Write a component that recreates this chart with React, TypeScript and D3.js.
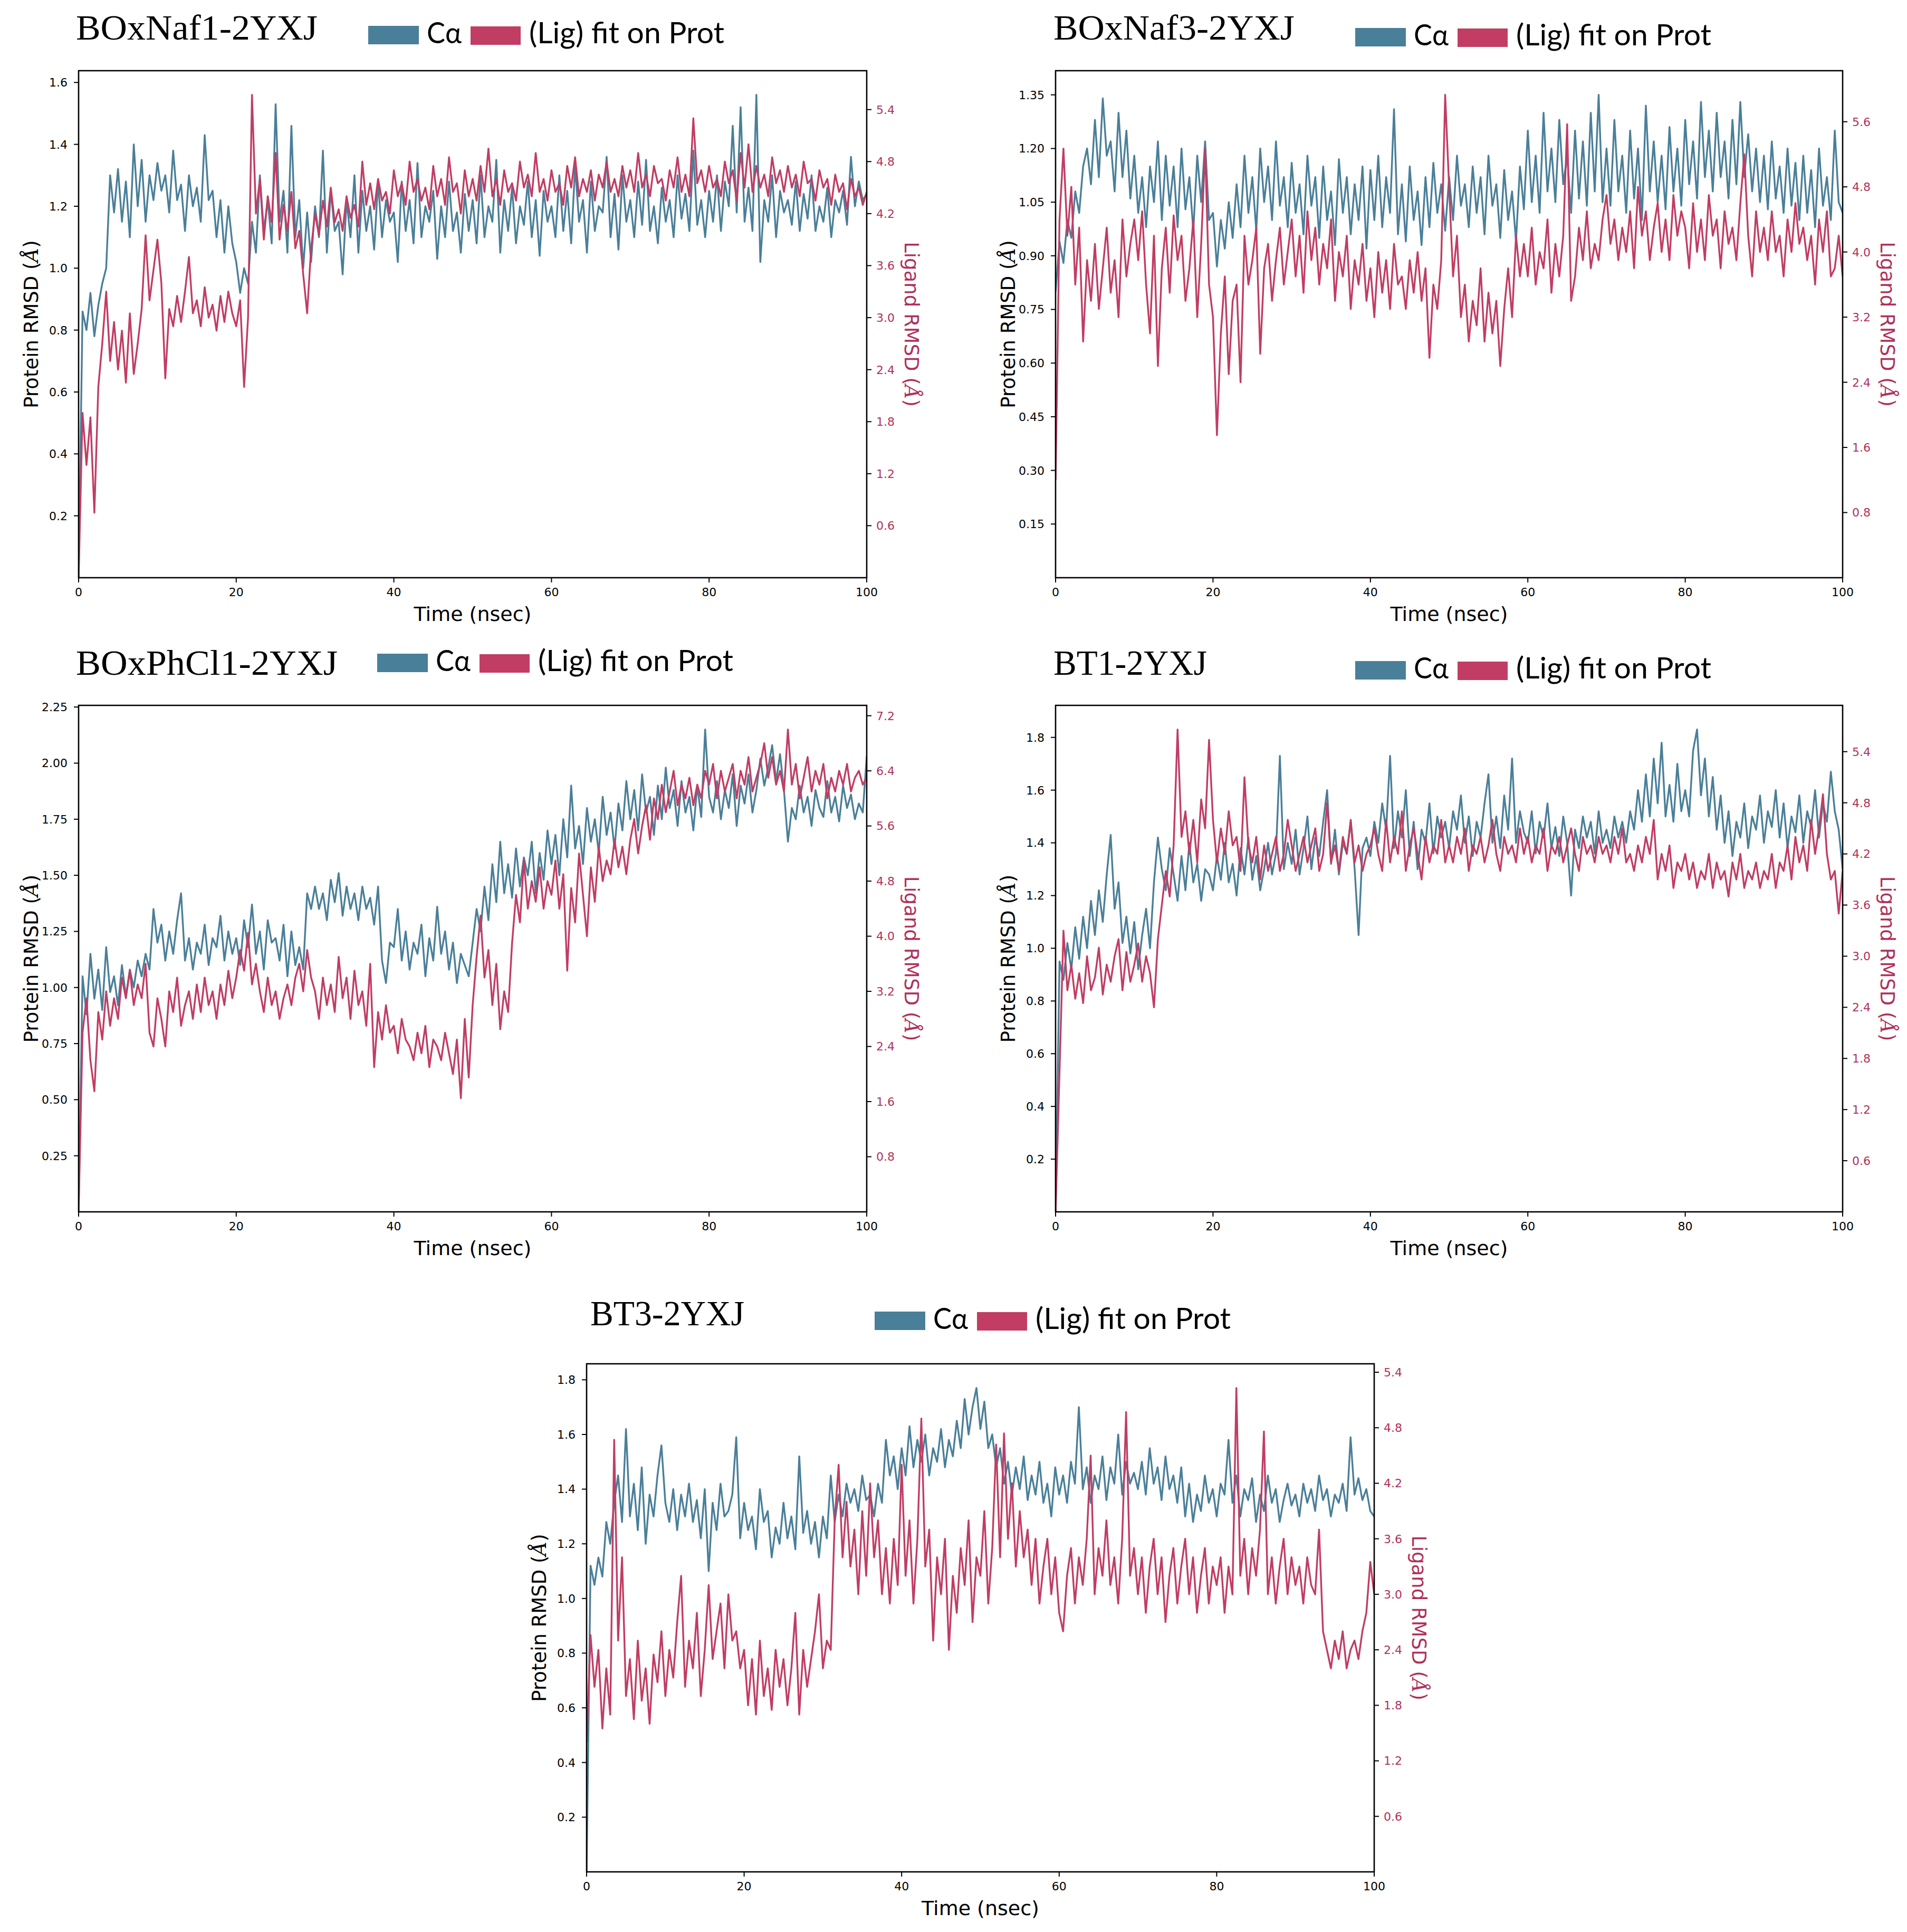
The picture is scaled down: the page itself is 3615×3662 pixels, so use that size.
import React from 'react';
import * as d3 from 'd3';

// time axis: 0..100 ns, one sample every 0.5 ns
const TIME_TICKS = [0, 20, 40, 60, 80, 100];

// ---- BOxNaf1-2YXJ ----
const ca1 = [
  0.00, 0.86, 0.80, 0.92, 0.78, 0.88, 0.95, 1.00, 1.30, 1.18, 1.32, 1.15, 1.28, 1.10, 1.40, 1.20, 1.35, 1.15, 1.30, 1.22,
  1.34, 1.25, 1.30, 1.18, 1.38, 1.22, 1.27, 1.12, 1.30, 1.20, 1.26, 1.15, 1.43, 1.22, 1.25, 1.10, 1.22, 1.05, 1.20, 1.08,
  1.02, 0.92, 1.00, 0.95, 1.15, 1.05, 1.30, 1.12, 1.22, 1.08, 1.53, 1.15, 1.25, 1.05, 1.46, 1.10, 1.22, 1.00, 1.18, 1.02,
  1.20, 1.10, 1.38, 1.05, 1.25, 1.12, 1.15, 0.98, 1.22, 1.10, 1.30, 1.05, 1.25, 1.12, 1.20, 1.06, 1.28, 1.10, 1.22, 1.15,
  1.18, 1.02, 1.28, 1.12, 1.22, 1.08, 1.34, 1.10, 1.20, 1.15, 1.25, 1.03, 1.20, 1.10, 1.28, 1.12, 1.18, 1.05, 1.24, 1.12,
  1.22, 1.08, 1.30, 1.10, 1.20, 1.15, 1.35, 1.05, 1.22, 1.12, 1.26, 1.08, 1.20, 1.14, 1.28, 1.10, 1.22, 1.04, 1.25, 1.15,
  1.20, 1.10, 1.30, 1.12, 1.25, 1.08, 1.33, 1.15, 1.22, 1.05, 1.28, 1.12, 1.20, 1.18, 1.36, 1.10, 1.24, 1.06, 1.30, 1.15,
  1.22, 1.10, 1.28, 1.14, 1.35, 1.12, 1.20, 1.08, 1.26, 1.15, 1.22, 1.10, 1.30, 1.16, 1.24, 1.12, 1.38, 1.14, 1.22, 1.10,
  1.25, 1.15, 1.30, 1.12, 1.28, 1.20, 1.46, 1.18, 1.52, 1.15, 1.26, 1.12, 1.56, 1.02, 1.22, 1.15, 1.30, 1.10, 1.25, 1.18,
  1.22, 1.14, 1.28, 1.12, 1.24, 1.16, 1.30, 1.12, 1.20, 1.15, 1.26, 1.10, 1.22, 1.18, 1.25, 1.14, 1.36, 1.20, 1.28, 1.22,
  1.24,
];
const lig1 = [
  0.00, 1.90, 1.30, 1.85, 0.75, 2.20, 2.70, 3.30, 2.50, 2.95, 2.40, 2.85, 2.25, 3.05, 2.35, 2.70, 3.10, 3.95, 3.20, 3.55,
  3.90, 3.40, 2.30, 3.10, 2.90, 3.25, 2.95, 3.30, 3.70, 3.05, 3.20, 2.90, 3.35, 3.00, 3.15, 2.85, 3.25, 2.95, 3.30, 3.05,
  2.90, 3.20, 2.20, 3.00, 5.57, 4.20, 4.60, 3.90, 4.40, 4.10, 4.90, 3.90, 4.30, 4.00, 4.45, 3.80, 4.00, 3.50, 3.05, 3.80,
  4.20, 3.95, 4.35, 4.05, 4.50, 4.10, 4.25, 4.00, 4.40, 4.15, 4.30, 4.05, 4.80, 4.30, 4.55, 4.25, 4.60, 4.35, 4.45, 4.20,
  4.70, 4.40, 4.55, 4.30, 4.80, 4.45, 4.60, 4.35, 4.50, 4.25, 4.75, 4.40, 4.60, 4.30, 4.85, 4.45, 4.55, 4.20, 4.70, 4.40,
  4.60, 4.35, 4.75, 4.45, 4.95, 4.40, 4.60, 4.30, 4.70, 4.45, 4.55, 4.35, 4.80, 4.50, 4.65, 4.40, 4.90, 4.45, 4.60, 4.35,
  4.70, 4.45, 4.55, 4.30, 4.75, 4.50, 4.85, 4.40, 4.60, 4.45, 4.70, 4.35, 4.65, 4.50, 4.80, 4.45, 4.60, 4.40, 4.75, 4.50,
  4.70, 4.45, 4.90, 4.50, 4.65, 4.40, 4.75, 4.55, 4.60, 4.35, 4.70, 4.50, 4.85, 4.45, 4.65, 4.40, 5.30, 4.55, 4.70, 4.45,
  4.75, 4.50, 4.60, 4.40, 4.80, 4.55, 4.70, 4.35, 4.90, 4.50, 5.00, 4.45, 4.75, 4.50, 4.65, 4.40, 4.85, 4.55, 4.70, 4.45,
  4.75, 4.50, 4.65, 4.40, 4.80, 4.55, 4.60, 4.35, 4.70, 4.50, 4.60, 4.30, 4.65, 4.45, 4.55, 4.25, 4.60, 4.40, 4.50, 4.30,
  4.45,
];

// ---- BOxNaf3-2YXJ ----
const ca2 = [
  0.80, 0.94, 0.88, 1.00, 0.95, 1.08, 1.02, 1.15, 1.20, 1.10, 1.28, 1.12, 1.34, 1.18, 1.22, 1.08, 1.30, 1.12, 1.25, 1.06,
  1.18, 1.02, 1.12, 0.98, 1.15, 1.05, 1.22, 1.00, 1.18, 1.04, 1.15, 0.98, 1.20, 1.03, 1.12, 0.97, 1.18, 1.05, 1.22, 1.00,
  1.02, 0.87, 1.00, 0.92, 1.05, 0.95, 1.10, 0.98, 1.18, 1.02, 1.12, 0.97, 1.20, 1.05, 1.15, 1.00, 1.22, 1.04, 1.12, 0.98,
  1.16, 1.02, 1.10, 0.96, 1.18, 1.04, 1.12, 0.95, 1.15, 1.00, 1.08, 0.93, 1.17, 1.02, 1.12, 0.96, 1.10, 1.00, 1.15, 0.92,
  1.14, 1.00, 1.18, 0.98, 1.12, 1.02, 1.31, 0.96, 1.10, 0.94, 1.15, 1.00, 1.08, 0.93, 1.12, 0.98, 1.16, 1.02, 1.10, 0.97,
  1.12, 1.00, 1.18, 1.04, 1.10, 0.98, 1.15, 1.02, 1.12, 0.96, 1.18, 1.04, 1.10, 0.95, 1.14, 1.00, 1.08, 0.94, 1.15, 1.03,
  1.25, 1.05, 1.18, 1.02, 1.30, 1.08, 1.20, 1.05, 1.28, 1.10, 1.18, 1.02, 1.25, 1.06, 1.22, 1.04, 1.30, 1.08, 1.35, 1.05,
  1.20, 1.04, 1.28, 1.08, 1.18, 1.02, 1.25, 1.06, 1.20, 1.00, 1.32, 1.08, 1.22, 1.05, 1.18, 1.03, 1.26, 1.08, 1.20, 1.04,
  1.28, 1.10, 1.22, 1.06, 1.33, 1.12, 1.25, 1.08, 1.30, 1.12, 1.22, 1.06, 1.28, 1.10, 1.33, 1.12, 1.24, 1.08, 1.20, 1.05,
  1.18, 1.03, 1.22, 1.06, 1.15, 1.02, 1.20, 1.04, 1.16, 1.00, 1.18, 1.02, 1.14, 0.98, 1.20, 1.04, 1.12, 1.00, 1.25, 1.05,
  1.02,
];
const lig2 = [
  1.20, 4.40, 5.27, 4.20, 4.80, 3.60, 4.30, 2.90, 3.90, 3.40, 4.10, 3.30, 3.80, 4.30, 3.50, 3.90, 3.20, 4.40, 3.70, 4.10,
  4.40, 3.90, 4.50, 3.60, 3.00, 4.20, 2.60, 3.80, 4.30, 3.50, 4.45, 3.90, 4.20, 3.40, 3.80, 4.40, 3.20, 4.10, 5.27, 3.60,
  3.20, 1.75, 3.00, 3.70, 2.50, 3.40, 3.60, 2.40, 4.20, 3.60, 3.90, 4.30, 2.75, 3.80, 4.10, 3.40, 3.90, 4.30, 3.60, 4.00,
  4.40, 3.70, 4.20, 3.50, 4.50, 3.90, 4.30, 3.60, 4.10, 3.80, 4.40, 3.40, 4.00, 3.70, 4.20, 3.30, 3.90, 3.60, 4.10, 3.40,
  3.80, 3.20, 4.00, 3.50, 3.90, 3.30, 4.10, 3.60, 3.70, 3.30, 3.90, 3.50, 4.00, 3.40, 3.80, 2.70, 3.60, 3.30, 3.90, 5.93,
  4.80, 3.70, 4.20, 3.20, 3.60, 2.90, 3.40, 3.10, 3.80, 2.90, 3.50, 3.00, 3.40, 2.60, 3.30, 3.80, 3.20, 4.20, 3.70, 4.10,
  3.70, 4.30, 3.60, 4.00, 3.80, 4.40, 3.50, 4.10, 3.70, 4.20, 5.57, 3.40, 3.70, 4.30, 3.90, 4.50, 3.80, 4.10, 3.90, 4.40,
  4.70, 4.10, 4.40, 3.90, 4.30, 4.00, 4.50, 3.80, 4.80, 4.20, 4.50, 3.90, 4.30, 4.60, 4.00, 4.40, 3.90, 4.70, 4.20, 4.50,
  4.30, 3.80, 4.60, 4.00, 4.40, 3.90, 4.70, 4.20, 4.40, 3.80, 4.50, 4.10, 4.30, 3.90, 4.60, 5.20, 4.20, 3.70, 4.50, 4.00,
  4.30, 3.90, 4.50, 4.00, 4.20, 3.70, 4.40, 4.00, 4.60, 4.10, 4.30, 3.90, 4.20, 3.60, 4.40, 4.00, 4.50, 3.70, 3.80, 4.20,
  3.70,
];

// ---- BOxPhCl1-2YXJ ----
const ca3 = [
  0.00, 1.05, 0.88, 1.15, 0.95, 1.08, 0.90, 1.18, 0.98, 1.05, 0.92, 1.10, 0.96, 1.08, 1.00, 1.12, 1.05, 1.15, 1.08, 1.35,
  1.20, 1.28, 1.12, 1.25, 1.15, 1.30, 1.42, 1.12, 1.22, 1.08, 1.20, 1.15, 1.28, 1.10, 1.22, 1.18, 1.32, 1.12, 1.25, 1.15,
  1.22, 1.10, 1.30, 1.18, 1.37, 1.15, 1.25, 1.08, 1.30, 1.20, 1.22, 1.12, 1.28, 1.05, 1.25, 1.10, 1.18, 1.08, 1.42, 1.35,
  1.45, 1.35, 1.42, 1.30, 1.48, 1.38, 1.51, 1.32, 1.45, 1.35, 1.42, 1.30, 1.45, 1.35, 1.40, 1.28, 1.45, 1.12, 1.02, 1.20,
  1.18, 1.35, 1.12, 1.25, 1.08, 1.20, 1.15, 1.28, 1.05, 1.22, 1.12, 1.36, 1.15, 1.25, 1.08, 1.20, 1.02, 1.15, 1.10, 1.05,
  1.20, 1.35, 1.25, 1.45, 1.30, 1.55, 1.38, 1.65, 1.42, 1.55, 1.40, 1.62, 1.45, 1.58, 1.50, 1.65, 1.42, 1.60, 1.48, 1.70,
  1.55, 1.68, 1.50, 1.75, 1.58, 1.90, 1.62, 1.72, 1.55, 1.80, 1.65, 1.75, 1.60, 1.85, 1.68, 1.78, 1.62, 1.82, 1.70, 1.92,
  1.75, 1.88, 1.70, 1.95, 1.78, 1.85, 1.68, 1.90, 1.75, 1.98, 1.80, 1.88, 1.72, 1.92, 1.78, 1.85, 1.70, 1.90, 1.76, 2.15,
  1.85, 1.78, 1.92, 1.75, 1.88, 1.80, 1.95, 1.72, 1.90, 1.82, 1.95, 1.78, 1.88, 2.02, 1.90, 1.98, 2.08, 1.92, 2.04, 1.88,
  1.65, 1.80, 1.75, 1.90, 1.78, 1.85, 1.72, 1.88, 1.80, 1.76, 1.92, 1.78, 1.85, 1.74, 1.90, 1.80, 1.86, 1.75, 1.82, 1.78,
  2.03,
];
const lig3 = [
  0.00, 2.60, 3.10, 2.20, 1.75, 2.90, 2.50, 3.20, 2.70, 3.10, 2.80, 3.40, 3.10, 3.50, 3.00, 3.30, 3.10, 3.60, 2.60, 2.40,
  3.10, 2.80, 2.40, 3.20, 2.90, 3.40, 2.70, 3.00, 3.20, 2.80, 3.30, 2.90, 3.40, 3.00, 3.20, 2.80, 3.30, 3.00, 3.50, 3.10,
  3.40, 3.80, 3.50, 4.05, 3.30, 3.60, 3.20, 2.90, 3.40, 3.00, 3.20, 2.80, 3.10, 3.30, 3.00, 3.40, 3.60, 3.20, 3.80, 3.40,
  3.20, 2.80, 3.40, 3.00, 3.30, 2.90, 3.70, 3.10, 3.40, 2.80, 3.50, 3.00, 3.20, 2.70, 3.60, 2.10, 2.90, 2.50, 3.00, 2.60,
  2.70, 2.30, 2.80, 2.50, 2.40, 2.20, 2.60, 2.30, 2.70, 2.10, 2.50, 2.40, 2.20, 2.60, 2.30, 2.00, 2.50, 1.65, 2.80, 1.95,
  3.00, 3.70, 4.30, 3.40, 3.80, 3.00, 3.60, 2.65, 3.20, 2.90, 3.90, 4.60, 4.20, 5.10, 4.40, 4.80, 4.50, 5.00, 4.40, 4.80,
  4.60, 5.10, 4.40, 4.90, 3.50, 4.70, 4.20, 5.20, 4.60, 4.00, 5.00, 4.50, 5.30, 4.80, 5.10, 4.90, 5.40, 5.00, 5.30, 4.90,
  5.40, 5.70, 5.20, 5.60, 5.90, 5.40, 6.00, 5.70, 6.20, 5.80, 6.10, 6.40, 5.90, 6.20, 6.00, 6.30, 5.90, 6.20, 6.00, 6.40,
  6.20, 6.50, 6.00, 6.40, 6.10, 6.30, 6.50, 6.00, 6.40, 6.20, 6.60, 6.10, 6.30, 6.50, 6.80, 6.30, 6.60, 6.20, 6.40, 6.10,
  7.00, 6.20, 6.50, 6.00, 6.30, 6.60, 6.10, 6.40, 6.20, 6.50, 6.00, 6.30, 6.10, 6.40, 6.20, 6.50, 6.10, 6.30, 6.40, 6.20,
  6.30,
];

// ---- BT1-2YXJ ----
const ca4 = [
  0.00, 0.95, 0.88, 1.02, 0.92, 1.08, 0.96, 1.12, 1.00, 1.18, 1.05, 1.22, 1.10, 1.28, 1.43, 1.15, 1.25, 1.02, 1.12, 0.98,
  1.10, 0.92, 1.05, 1.15, 1.00, 1.25, 1.42, 1.30, 1.22, 1.38, 1.28, 1.18, 1.35, 1.22, 1.40, 1.25, 1.32, 1.18, 1.30, 1.28,
  1.22, 1.35, 1.26, 1.40, 1.25, 1.32, 1.20, 1.38, 1.28, 1.42, 1.26, 1.35, 1.22, 1.30, 1.40, 1.28, 1.36, 1.73, 1.30, 1.40,
  1.32, 1.45, 1.28, 1.38, 1.50, 1.30, 1.42, 1.35, 1.48, 1.60, 1.32, 1.45, 1.28, 1.40, 1.36, 1.48, 1.30, 1.05, 1.38, 1.42,
  1.35, 1.48, 1.40, 1.55, 1.45, 1.73, 1.38, 1.52, 1.42, 1.60, 1.35, 1.48, 1.30, 1.45, 1.40, 1.55, 1.36, 1.50, 1.42, 1.48,
  1.38, 1.52, 1.45, 1.58, 1.40, 1.50, 1.35, 1.48, 1.42, 1.55, 1.66, 1.40, 1.50, 1.38, 1.58, 1.45, 1.72, 1.40, 1.52, 1.44,
  1.40, 1.52, 1.36, 1.48, 1.42, 1.55, 1.38, 1.46, 1.35, 1.50, 1.40, 1.20, 1.45, 1.38, 1.50, 1.42, 1.48, 1.36, 1.52, 1.40,
  1.45, 1.38, 1.50, 1.42, 1.48, 1.40, 1.52, 1.45, 1.60, 1.48, 1.66, 1.50, 1.72, 1.55, 1.78, 1.50, 1.62, 1.48, 1.70, 1.52,
  1.60, 1.50, 1.75, 1.83, 1.58, 1.72, 1.50, 1.65, 1.45, 1.58, 1.40, 1.52, 1.35, 1.48, 1.42, 1.55, 1.38, 1.50, 1.45, 1.58,
  1.40, 1.52, 1.46, 1.60, 1.42, 1.55, 1.38, 1.50, 1.44, 1.58, 1.40, 1.52, 1.46, 1.60, 1.42, 1.55, 1.48, 1.67, 1.52, 1.45,
  1.30,
];
const lig4 = [
  0.00, 1.64, 3.30, 2.60, 2.90, 2.50, 2.80, 2.45, 3.00, 2.60, 2.75, 3.10, 2.55, 2.90, 2.70, 3.00, 3.20, 2.60, 3.05, 2.70,
  2.90, 3.15, 2.70, 3.00, 2.80, 2.40, 3.20, 3.60, 4.00, 3.70, 4.30, 5.66, 4.40, 4.70, 4.20, 4.60, 4.10, 4.84, 4.50, 5.54,
  4.60, 4.10, 4.50, 4.20, 4.70, 4.30, 4.40, 4.00, 5.10, 4.30, 4.10, 4.40, 3.90, 4.30, 4.00, 4.20, 4.40, 4.00, 4.20, 4.60,
  4.30, 4.00, 4.20, 4.40, 4.10, 4.30, 4.50, 4.00, 4.20, 4.80, 4.10, 4.30, 4.00, 4.40, 4.20, 4.60, 4.10, 4.30, 4.00, 4.20,
  4.30, 4.50, 4.20, 4.00, 4.60, 4.10, 4.40, 4.20, 4.70, 4.00, 4.30, 4.50, 4.20, 3.90, 4.40, 4.10, 4.30, 4.20, 4.60, 4.10,
  4.30, 4.10, 4.40, 4.20, 4.50, 4.00, 4.30, 4.20, 4.40, 4.10, 4.30, 4.60, 4.20, 4.00, 4.40, 4.20, 4.30, 4.10, 4.50, 4.20,
  4.40, 4.10, 4.30, 4.20, 4.50, 4.00, 4.30, 4.20, 4.40, 4.10, 4.30, 4.50, 4.20, 4.00, 4.40, 4.20, 4.30, 4.10, 4.40, 4.20,
  4.30, 4.10, 4.40, 4.20, 4.50, 4.10, 4.20, 4.00, 4.30, 4.10, 4.40, 4.20, 4.60, 3.90, 4.20, 4.00, 4.30, 3.80, 4.10, 4.00,
  4.20, 3.90, 4.10, 3.80, 4.00, 3.90, 4.20, 3.80, 4.10, 3.90, 4.00, 3.70, 4.10, 3.90, 4.20, 3.80, 4.00, 3.90, 4.10, 3.80,
  4.00, 3.90, 4.20, 3.80, 4.10, 4.00, 4.30, 3.90, 4.40, 4.10, 4.30, 4.00, 4.60, 4.20, 4.50, 4.90, 4.20, 3.90, 4.00, 3.50,
  4.00,
];

// ---- BT3-2YXJ ----
const ca5 = [
  0.00, 1.12, 1.05, 1.15, 1.08, 1.28, 1.20, 1.35, 1.45, 1.28, 1.62, 1.30, 1.42, 1.25, 1.48, 1.20, 1.38, 1.30, 1.45, 1.56,
  1.35, 1.28, 1.40, 1.25, 1.38, 1.30, 1.42, 1.28, 1.36, 1.22, 1.40, 1.10, 1.35, 1.25, 1.42, 1.30, 1.32, 1.38, 1.59, 1.22,
  1.35, 1.25, 1.30, 1.18, 1.40, 1.28, 1.32, 1.15, 1.26, 1.20, 1.35, 1.22, 1.30, 1.18, 1.52, 1.24, 1.32, 1.20, 1.28, 1.15,
  1.30, 1.22, 1.45, 1.28, 1.38, 1.30, 1.42, 1.35, 1.40, 1.32, 1.45, 1.36, 1.38, 1.30, 1.42, 1.35, 1.58, 1.45, 1.52, 1.40,
  1.55, 1.45, 1.63, 1.48, 1.58, 1.50, 1.60, 1.45, 1.55, 1.50, 1.62, 1.48, 1.58, 1.52, 1.65, 1.55, 1.73, 1.60, 1.70, 1.77,
  1.62, 1.72, 1.55, 1.60, 1.48, 1.55, 1.42, 1.50, 1.38, 1.48, 1.40, 1.52, 1.36, 1.45, 1.38, 1.50, 1.35, 1.42, 1.30, 1.48,
  1.38, 1.45, 1.35, 1.50, 1.42, 1.70, 1.40, 1.48, 1.35, 1.45, 1.40, 1.52, 1.36, 1.48, 1.42, 1.60, 1.38, 1.50, 1.42, 1.46,
  1.40, 1.50, 1.38, 1.55, 1.42, 1.48, 1.36, 1.52, 1.40, 1.45, 1.35, 1.48, 1.30, 1.42, 1.28, 1.38, 1.32, 1.45, 1.35, 1.40,
  1.30, 1.42, 1.38, 1.58, 1.35, 1.45, 1.30, 1.40, 1.36, 1.44, 1.28, 1.38, 1.32, 1.45, 1.35, 1.40, 1.28, 1.36, 1.42, 1.34,
  1.38, 1.30, 1.42, 1.35, 1.40, 1.32, 1.45, 1.36, 1.40, 1.30, 1.38, 1.35, 1.42, 1.32, 1.59, 1.38, 1.44, 1.36, 1.40, 1.32,
  1.30,
];
const lig5 = [
  1.40, 2.56, 2.00, 2.40, 1.55, 2.20, 1.70, 4.67, 2.50, 3.40, 1.90, 2.30, 1.65, 2.50, 1.85, 2.20, 1.60, 2.35, 2.05, 2.60,
  1.90, 2.40, 2.10, 2.70, 3.20, 2.00, 2.50, 2.20, 2.80, 1.90, 2.40, 3.10, 2.30, 2.60, 2.90, 2.20, 3.00, 2.50, 2.60, 2.20,
  2.40, 1.80, 2.30, 1.70, 2.50, 1.90, 2.20, 1.75, 2.40, 2.00, 2.30, 1.80, 2.20, 2.80, 1.70, 2.40, 2.00, 2.30, 2.60, 3.00,
  2.20, 2.50, 2.40, 3.80, 4.40, 3.40, 4.00, 3.30, 3.70, 3.00, 3.90, 3.20, 4.20, 3.40, 3.80, 3.00, 3.50, 2.90, 3.60, 3.10,
  4.40, 3.20, 3.80, 2.90, 3.60, 4.90, 3.30, 3.70, 2.50, 3.40, 3.00, 3.60, 2.40, 3.20, 2.80, 3.50, 3.10, 3.80, 2.70, 3.40,
  3.20, 3.90, 2.90, 3.50, 4.62, 3.40, 4.74, 3.60, 4.20, 3.30, 3.90, 3.40, 3.70, 3.10, 3.60, 2.90, 3.30, 3.60, 3.00, 3.40,
  2.80, 2.60, 3.20, 3.50, 2.90, 3.40, 3.10, 3.60, 4.50, 3.00, 3.50, 3.20, 3.80, 3.10, 3.40, 2.90, 3.60, 4.97, 3.20, 3.50,
  3.00, 3.40, 2.80, 3.30, 3.60, 3.00, 3.40, 2.70, 3.20, 3.50, 2.90, 3.30, 3.60, 3.00, 3.40, 2.80, 3.20, 3.50, 2.90, 3.30,
  3.10, 3.40, 2.80, 3.30, 3.00, 5.23, 3.20, 3.60, 3.00, 3.50, 3.20, 3.70, 4.76, 3.00, 3.40, 2.90, 3.30, 3.60, 3.00, 3.40,
  3.10, 3.30, 2.90, 3.40, 3.10, 3.00, 3.70, 2.60, 2.40, 2.20, 2.50, 2.30, 2.60, 2.20, 2.40, 2.50, 2.30, 2.60, 2.80, 3.35,
  3.00,
];

// axis tick values
const protTicksA = [0.2, 0.4, 0.6, 0.8, 1.0, 1.2, 1.4, 1.6, 1.8];
const protTicksB = [0.15, 0.3, 0.45, 0.6, 0.75, 0.9, 1.05, 1.2, 1.35];
const protTicksC = [0.25, 0.5, 0.75, 1.0, 1.25, 1.5, 1.75, 2.0, 2.25];
const ligTicksA = [0.6, 1.2, 1.8, 2.4, 3.0, 3.6, 4.2, 4.8, 5.4];
const ligTicksB = [0.8, 1.6, 2.4, 3.2, 4.0, 4.8, 5.6, 6.4, 7.2];

const BLUE = '#4a7f99';
const RED = '#c13d63';
const RED_TEXT = '#b0305a';

const panels = [
  { title: 'BOxNaf1-2YXJ', ca: ca1, lig: lig1, pt: protTicksA, lt: ligTicksA, pd: 1,
    box: [149, 134, 1643, 1095], tx: 144, ty: 75, tw: 458, lx: 698, ly: 49 },
  { title: 'BOxNaf3-2YXJ', ca: ca2, lig: lig2, pt: protTicksB, lt: ligTicksB, pd: 2,
    box: [2001, 134, 3493, 1095], tx: 1997, ty: 75, tw: 457, lx: 2569, ly: 53 },
  { title: 'BOxPhCl1-2YXJ', ca: ca3, lig: lig3, pt: protTicksC, lt: ligTicksB, pd: 2,
    box: [149, 1337, 1643, 2297], tx: 144, ty: 1279, tw: 496, lx: 715, ly: 1239 },
  { title: 'BT1-2YXJ', ca: ca4, lig: lig4, pt: protTicksA, lt: ligTicksA, pd: 1,
    box: [2001, 1337, 3493, 2297], tx: 1997, ty: 1279, tw: 291, lx: 2569, ly: 1253 },
  { title: 'BT3-2YXJ', ca: ca5, lig: lig5, pt: protTicksA, lt: ligTicksA, pd: 1,
    box: [1112, 2585, 2605, 3548], tx: 1119, ty: 2512, tw: 292, lx: 1658, ly: 2486 },
];

const timeOf = (n: number) => d3.range(n).map(i => (i * 100) / (n - 1));

const Panel = ({ p, idx }: { p: any; idx: number }) => {
  const [L, T, R, B] = p.box;
  const x = d3.scaleLinear().domain([0, 100]).range([L, R]);
  const yP = d3.scaleLinear().domain([0, (d3.max(p.ca as number[]) || 1) * 1.05]).range([B, T]);
  const yL = d3.scaleLinear().domain([0, (d3.max(p.lig as number[]) || 1) * 1.05]).range([B, T]);
  const tCa = timeOf(p.ca.length);
  const tLig = timeOf(p.lig.length);
  const caLine = d3.line<number>().x((_, i) => x(tCa[i])).y(d => yP(d));
  const ligLine = d3.line<number>().x((_, i) => x(tLig[i])).y(d => yL(d));
  const cy = (T + B) / 2;
  const clipId = `clip-${idx}`;
  return (
    <g>
      <clipPath id={clipId}>
        <rect x={L} y={T} width={R - L} height={B - T} />
      </clipPath>
      <g clipPath={`url(#${clipId})`}>
        <path d={caLine(p.ca) || ''} fill="none" stroke={BLUE} strokeWidth={3.4} strokeLinejoin="round" />
        <path d={ligLine(p.lig) || ''} fill="none" stroke={RED} strokeWidth={3.4} strokeLinejoin="round" />
      </g>
      <rect x={L} y={T} width={R - L} height={B - T} fill="none" stroke="#000" strokeWidth={2.6} />

      {/* x axis */}
      {TIME_TICKS.map(t => (
        <g key={`x${t}`}>
          <line x1={x(t)} x2={x(t)} y1={B} y2={B + 9} stroke="#000" strokeWidth={2} />
          <text x={x(t)} y={B + 35} textAnchor="middle" fontFamily="DejaVu Sans" fontSize={22} fill="#000">{t}</text>
        </g>
      ))}
      <text x={(L + R) / 2} y={B + 82} textAnchor="middle" fontFamily="DejaVu Sans" fontSize={38} fill="#000">Time (nsec)</text>

      {/* left axis */}
      {p.pt.filter((v: number) => v <= yP.domain()[1]).map((v: number) => (
        <g key={`p${v}`}>
          <line x1={L - 9} x2={L} y1={yP(v)} y2={yP(v)} stroke="#000" strokeWidth={2} />
          <text x={L - 21} y={yP(v)} dy="0.36em" textAnchor="end" fontFamily="DejaVu Sans" fontSize={22} fill="#000">{v.toFixed(p.pd)}</text>
        </g>
      ))}
      <text transform={`translate(${L - 77},${cy}) rotate(-90)`} textAnchor="middle" fontFamily="DejaVu Sans" fontSize={37} fill="#000">
        Protein RMSD (<tspan fontFamily="DejaVu Serif" fontStyle="italic">Å</tspan>)
      </text>

      {/* right axis */}
      {p.lt.filter((v: number) => v <= yL.domain()[1]).map((v: number) => (
        <g key={`l${v}`}>
          <line x1={R} x2={R + 9} y1={yL(v)} y2={yL(v)} stroke="#000" strokeWidth={2} />
          <text x={R + 18} y={yL(v)} dy="0.36em" textAnchor="start" fontFamily="DejaVu Sans" fontSize={22} fill={RED_TEXT}>{v.toFixed(1)}</text>
        </g>
      ))}
      <text transform={`translate(${R + 72},${cy}) rotate(90)`} textAnchor="middle" fontFamily="DejaVu Sans" fontSize={37} fill={RED_TEXT}>
        Ligand RMSD (<tspan fontFamily="DejaVu Serif" fontStyle="italic">Å</tspan>)
      </text>

      {/* title */}
      <text x={p.tx} y={p.ty} fontFamily="Liberation Serif" fontSize={68} fill="#000" textLength={p.tw} lengthAdjust="spacingAndGlyphs">{p.title}</text>

      {/* legend */}
      <rect x={p.lx} y={p.ly} width={96} height={35} fill={BLUE} />
      <text x={p.lx + 111} y={p.ly + 33} fontFamily="Lato" fontSize={56} fill="#000" textLength={66} lengthAdjust="spacingAndGlyphs">Cα</text>
      <rect x={p.lx + 194} y={p.ly + 1} width={95} height={35} fill={RED} />
      <text x={p.lx + 305} y={p.ly + 33} fontFamily="Lato" fontSize={56} fill="#000" textLength={370} lengthAdjust="spacingAndGlyphs">(Lig) fit on Prot</text>
    </g>
  );
};

const App = () => (
  <svg width={3615} height={3662} style={{ position: 'absolute', left: 0, top: 0, background: '#fff' }}>
    <rect width={3615} height={3662} fill="#fff" />
    {panels.map((p, i) => <Panel key={p.title} p={p} idx={i} />)}
  </svg>
);

export default App;
